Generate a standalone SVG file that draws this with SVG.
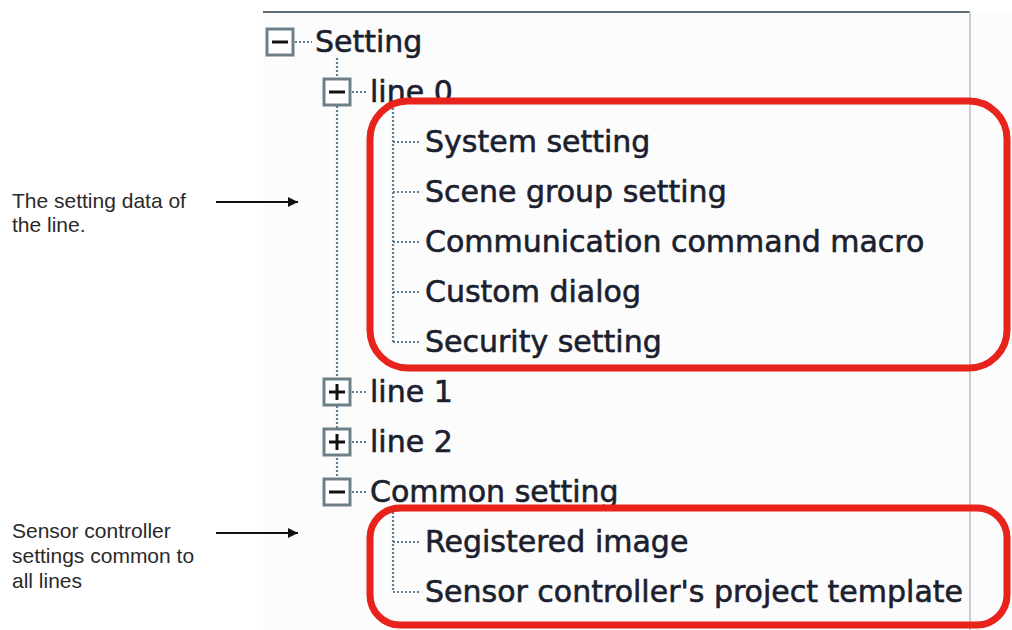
<svg xmlns="http://www.w3.org/2000/svg" width="1012" height="630" viewBox="0 0 1012 630">
<style>
.t{font-family:"DejaVu Sans",sans-serif;font-size:30px;fill:#1b1f2e;stroke:#1b1f2e;stroke-width:0.6}
.a{font-family:"Liberation Sans",Arial,sans-serif;font-size:21px;fill:#2a2a2a}
.box{fill:#fff;stroke:#6e8087;stroke-width:3}
.sign{stroke:#111;stroke-width:3}
.dot{stroke:#5f7d93;stroke-width:2.2;stroke-dasharray:2 2;fill:none}
.red{fill:none;stroke:#e8231c;stroke-width:7}
.arr{stroke:#111;stroke-width:1.8}
</style>
<defs>
<marker id="ah" viewBox="0 0 10 10" refX="10" refY="5" markerWidth="11" markerHeight="10" markerUnits="userSpaceOnUse" orient="auto">
<path d="M0,0 L10,5 L0,10 z" fill="#111"/>
</marker>
</defs>
<rect x="263" y="13" width="749" height="617" fill="#fcfcfd"/>
<line x1="263" y1="12" x2="970" y2="12" stroke="#5f6d75" stroke-width="2"/>
<line x1="970" y1="12" x2="970" y2="630" stroke="#c9cdd1" stroke-width="2"/>
<g id="connectors">
<line class="dot" x1="337" y1="58" x2="337" y2="480"/>
<line class="dot" x1="393" y1="108" x2="393" y2="342"/>
<line class="dot" x1="393" y1="508" x2="393" y2="592"/>
<line class="dot" x1="295" y1="42" x2="312" y2="42"/>
<line class="dot" x1="352" y1="92" x2="367" y2="92"/>
<line class="dot" x1="352" y1="392" x2="367" y2="392"/>
<line class="dot" x1="352" y1="442" x2="367" y2="442"/>
<line class="dot" x1="352" y1="492" x2="367" y2="492"/>
<line class="dot" x1="393" y1="142" x2="420" y2="142"/>
<line class="dot" x1="393" y1="192" x2="420" y2="192"/>
<line class="dot" x1="393" y1="242" x2="420" y2="242"/>
<line class="dot" x1="393" y1="292" x2="420" y2="292"/>
<line class="dot" x1="393" y1="342" x2="420" y2="342"/>
<line class="dot" x1="393" y1="542" x2="420" y2="542"/>
<line class="dot" x1="393" y1="592" x2="420" y2="592"/>
<line class="arr" x1="216" y1="202" x2="298" y2="202" marker-end="url(#ah)"/>
<line class="arr" x1="216" y1="533" x2="298" y2="533" marker-end="url(#ah)"/>
</g>
<g id="setting">
<rect class="box" x="267" y="29" width="26" height="26"/>
<line class="sign" x1="272" y1="42" x2="288" y2="42"/>
<text class="t" x="315" y="52">Setting</text>
</g>
<g id="line0">
<rect class="box" x="324" y="79" width="26" height="26"/>
<line class="sign" x1="329" y1="92" x2="345" y2="92"/>
<text class="t" x="370" y="102">line 0</text>
</g>
<g id="system-setting"><text class="t" x="425" y="152">System setting</text></g>
<g id="scene-group-setting"><text class="t" x="425" y="202">Scene group setting</text></g>
<g id="communication-command-macro"><text class="t" x="425" y="252">Communication command macro</text></g>
<g id="custom-dialog"><text class="t" x="425" y="302">Custom dialog</text></g>
<g id="security-setting"><text class="t" x="425" y="352">Security setting</text></g>
<g id="line1">
<rect class="box" x="324" y="379" width="26" height="26"/>
<line class="sign" x1="329" y1="392" x2="345" y2="392"/>
<line class="sign" x1="337" y1="384" x2="337" y2="400"/>
<text class="t" x="370" y="402">line 1</text>
</g>
<g id="line2">
<rect class="box" x="324" y="429" width="26" height="26"/>
<line class="sign" x1="329" y1="442" x2="345" y2="442"/>
<line class="sign" x1="337" y1="434" x2="337" y2="450"/>
<text class="t" x="370" y="452">line 2</text>
</g>
<g id="common-setting">
<rect class="box" x="324" y="479" width="26" height="26"/>
<line class="sign" x1="329" y1="492" x2="345" y2="492"/>
<text class="t" x="370" y="502">Common setting</text>
</g>
<g id="registered-image"><text class="t" x="425" y="552">Registered image</text></g>
<g id="project-template"><text class="t" x="425" y="602">Sensor controller's project template</text></g>
<g id="highlight-line">
<rect class="red" x="370" y="101" width="637" height="267" rx="38"/>
</g>
<g id="highlight-common">
<rect class="red" x="370" y="508" width="637" height="117" rx="30"/>
</g>
<g id="note-line">
<text class="a" x="12" y="208">The setting data of</text>
<text class="a" x="12" y="232">the line.</text>
</g>
<g id="note-common">
<text class="a" x="12" y="538">Sensor controller</text>
<text class="a" x="12" y="563">settings common to</text>
<text class="a" x="12" y="588">all lines</text>
</g>
</svg>
